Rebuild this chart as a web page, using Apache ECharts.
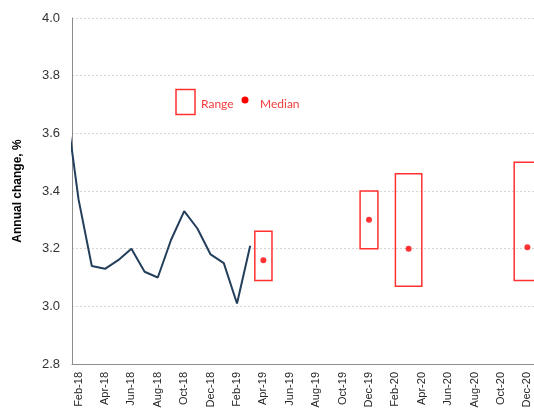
<!DOCTYPE html>
<html>
<head>
<meta charset="utf-8">
<script src="https://cdn.jsdelivr.net/npm/echarts@6/dist/echarts.min.js"></script>
<style>
  html, body { margin: 0; padding: 0; background: #fff; }
  #chart { width: 534px; height: 414px; }
</style>
</head>
<body>
<div id="chart"></div>
<script>
// months shown on the axis
var months = [
  "Feb-18", "Mar-18", "Apr-18", "May-18", "Jun-18", "Jul-18", "Aug-18", "Sep-18", "Oct-18", "Nov-18", "Dec-18",
  "Jan-19", "Feb-19", "Mar-19", "Apr-19", "May-19", "Jun-19", "Jul-19", "Aug-19", "Sep-19", "Oct-19", "Nov-19", "Dec-19",
  "Jan-20", "Feb-20", "Mar-20", "Apr-20", "May-20", "Jun-20", "Jul-20", "Aug-20", "Sep-20", "Oct-20", "Nov-20", "Dec-20"
];
// actual annual change, Jan-18 .. Mar-19 (Jan-18 sits left of the axis and is clipped)
var actual = [3.71, 3.37, 3.14, 3.13, 3.16, 3.20, 3.12, 3.10, 3.23, 3.33, 3.27, 3.18, 3.15, 3.01, 3.21];
// forecast ranges
var rangeMonths = ["Apr-19", "Dec-19", "Mar-20", "Dec-20"];
var rangeLow = [3.09, 3.20, 3.07, 3.09];
var rangeHigh = [3.26, 3.40, 3.46, 3.50];
var medians = [3.16, 3.30, 3.20, 3.205];
var yTicks = [2.8, 3.0, 3.2, 3.4, 3.6, 3.8, 4.0];

var chart = echarts.init(document.getElementById("chart"));

var lineData = actual.map(function (v, i) { return [i - 1, v]; });
var boxData = rangeMonths.map(function (m, i) { return [months.indexOf(m), rangeLow[i], rangeHigh[i]]; });
var medianData = rangeMonths.map(function (m, i) { return [months.indexOf(m), medians[i]]; });
var boxWidths = [1.3, 1.35, 2.0, 2.0]; // in months

var option = {
  animation: false,
  grid: { left: 72, right: 0, top: 18, bottom: 50 },
  xAxis: [
    {
      type: "category",
      data: months,
      boundaryGap: true,
      axisTick: { show: false },
      axisLine: { show: true, onZero: false, lineStyle: { color: "#8c8c8c", width: 1 } },
      axisLabel: {
        interval: 1,
        rotate: 90,
        margin: 8,
        fontFamily: "Liberation Sans",
        fontSize: 11,
        color: "#262626"
      },
      splitLine: { show: false }
    },
    {
      type: "value",
      show: false,
      min: -0.5,
      max: months.length - 0.5
    }
  ],
  yAxis: {
    type: "value",
    min: yTicks[0],
    max: yTicks[yTicks.length - 1],
    interval: 0.2,
    name: "Annual change, %",
    nameLocation: "middle",
    nameGap: 48,
    nameTextStyle: { fontFamily: "Liberation Sans", fontSize: 12, fontWeight: "bold", color: "#000" },
    axisTick: { show: false },
    axisLine: { show: true, onZero: false, lineStyle: { color: "#8c8c8c", width: 1 } },
    axisLabel: {
      margin: 12,
      fontFamily: "Liberation Sans",
      fontSize: 13,
      color: "#333",
      formatter: function (v) { return v.toFixed(1); }
    },
    splitLine: { show: true, lineStyle: { color: "#d4d4d4", type: [2, 2], width: 1 } }
  },
  series: [
    {
      type: "line",
      xAxisIndex: 1,
      data: lineData,
      clip: true,
      symbol: "none",
      lineStyle: { color: "#243f5c", width: 2 }
    },
    {
      type: "custom",
      xAxisIndex: 0,
      clip: true,
      data: boxData,
      renderItem: function (params, api) {
        var top = api.coord([api.value(0), api.value(2)]);
        var bottom = api.coord([api.value(0), api.value(1)]);
        var w = api.size([1, 0])[0] * boxWidths[params.dataIndex];
        return {
          type: "rect",
          shape: { x: top[0] - w / 2, y: top[1], width: w, height: bottom[1] - top[1] },
          style: { fill: "none", stroke: "#ff3030", lineWidth: 1.5 }
        };
      }
    },
    {
      type: "scatter",
      xAxisIndex: 0,
      data: medianData,
      symbol: "circle",
      symbolSize: 6,
      itemStyle: { color: "#ff0000" }
    }
  ],
  graphic: [
    { type: "rect", shape: { x: 176, y: 89.5, width: 19, height: 25 }, style: { fill: "none", stroke: "#ff3030", lineWidth: 1.5 } },
    { type: "text", x: 201, y: 104, style: { text: "Range", fill: "#f03c3c", font: "12px Lato", verticalAlign: "middle" } },
    { type: "circle", shape: { cx: 245, cy: 100, r: 3.5 }, style: { fill: "#ff0000" } },
    { type: "text", x: 260, y: 104, style: { text: "Median", fill: "#f03c3c", font: "12px Lato", verticalAlign: "middle" } }
  ]
};

chart.setOption(option);
</script>
</body>
</html>
